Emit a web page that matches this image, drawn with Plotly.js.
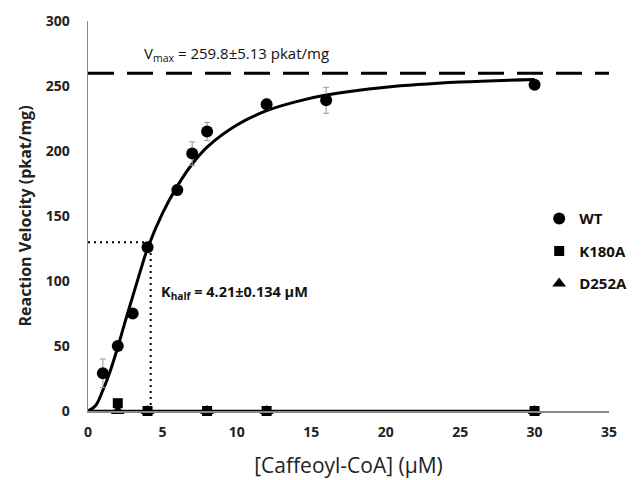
<!DOCTYPE html>
<html>
<head>
<meta charset="utf-8">
<script src="https://cdn.plot.ly/plotly-3.0.1.min.js"></script>
<style>html,body{margin:0;padding:0;background:#fff;}#chart{width:644px;height:480px;}</style>
</head>
<body>
<div id="chart"></div>
<script>
// WT measurements
const wtX = [1, 2, 3, 4, 6, 7, 8, 12, 16, 30];
const wtY = [29, 50, 75, 126, 170, 198, 215, 236, 239, 251];
const wtErr = [11, 3, 3, 3, 4, 9, 7, 4, 10, 3];
// Mutants
const k180aX = [2, 4, 8, 12, 30];
const k180aY = [6, 0, 0, 0, 0];
const d252aX = [2, 4, 8, 12, 30];
const d252aY = [0, 0, 0, 0, 0];
// Fitted Hill curve
const fitX = [0, 0.5, 1, 1.5, 2, 2.5, 3, 3.5, 4, 5, 6, 7, 8, 10, 12, 14, 16, 20, 25, 30];
const fitY = [0, 4, 16, 31, 49, 69, 88, 107, 125, 152, 173, 190, 203, 220, 231, 238, 243, 249, 253, 255];
// Mutant fit (flat)
const mutFitX = [0, 30];
const mutFitY = [0, 0];
// Kinetic constants
const vmax = 259.8;
const khalf = 4.21;
const halfV = 129.9;
const xMax = 35;
const yMax = 300;
const xTicks = [0, 5, 10, 15, 20, 25, 30, 35];
const yTicks = [0, 50, 100, 150, 200, 250, 300];

const traces = [
  {x: [0, xMax], y: [vmax, vmax], mode: 'lines', line: {color: '#000', width: 3, dash: '26px,13px'}, showlegend: false, hoverinfo: 'skip'},
  {x: [0, khalf], y: [halfV, halfV], mode: 'lines', line: {color: '#000', width: 2, dash: '2px,4px'}, showlegend: false, hoverinfo: 'skip'},
  {x: [khalf, khalf], y: [0, halfV], mode: 'lines', line: {color: '#000', width: 2, dash: '2px,4px'}, showlegend: false, hoverinfo: 'skip'},
  {x: mutFitX, y: mutFitY, mode: 'lines', line: {color: '#000', width: 2.5}, showlegend: false, cliponaxis: false},
  {x: fitX, y: fitY, mode: 'lines', line: {color: '#000', width: 3, shape: 'spline'}, showlegend: false},
  {x: wtX, y: wtY, name: 'WT', mode: 'markers', legendgroup: 'a',
   marker: {symbol: 'circle', size: 12, color: '#000'},
   error_y: {type: 'data', array: wtErr, visible: true, color: '#999', thickness: 1, width: 3},
   cliponaxis: false},
  {x: k180aX, y: k180aY, name: 'K180A', mode: 'markers', legendgroup: 'b',
   marker: {symbol: 'square', size: 10, color: '#000'}, cliponaxis: false},
  {x: d252aX, y: d252aY, name: 'D252A', mode: 'markers', legendgroup: 'c',
   marker: {symbol: 'triangle-up', size: 12, color: '#000'}, cliponaxis: false}
];

const layout = {
  width: 644, height: 480,
  margin: {l: 88, r: 12, t: 21, b: 69},
  paper_bgcolor: '#fff', plot_bgcolor: '#fff',
  font: {family: 'Open Sans, sans-serif', color: '#222'},
  xaxis: {
    range: [0, xMax], tickvals: xTicks, ticktext: xTicks.map(String),
    showgrid: false, zeroline: false, showline: true, linecolor: '#888', linewidth: 1.5,
    ticks: '', ticklabelstandoff: 8, tickfont: {size: 14, color: '#222', weight: 'bold'},
    title: {text: '[Caffeoyl-CoA] (μM)', font: {size: 21, color: '#222'}, standoff: 18}
  },
  yaxis: {
    range: [0, yMax], tickvals: yTicks, ticktext: yTicks.map(String),
    showgrid: false, zeroline: false, showline: true, linecolor: '#888', linewidth: 1.5,
    ticks: '', ticklabelstandoff: 14, tickfont: {size: 14, color: '#222', weight: 'bold'},
    title: {text: 'Reaction Velocity (pkat/mg)', font: {size: 16, color: '#222', weight: 'bold'}, standoff: 10}
  },
  legend: {x: 0.866, y: 0.535, xanchor: 'left', yanchor: 'top', traceorder: 'grouped', tracegroupgap: 10,
    font: {size: 15, color: '#111', weight: 'bold'}, bgcolor: 'rgba(0,0,0,0)', itemwidth: 30},
  annotations: [
    {x: 10.0, y: 275, xref: 'x', yref: 'y', text: 'V<sub>max</sub> = 259.8±5.13 pkat/mg', showarrow: false,
     font: {size: 15, color: '#111'}},
    {x: 4.74, y: 91, xref: 'x', yref: 'y', xanchor: 'left', text: 'K<sub>half</sub> = 4.21±0.134 μM', showarrow: false,
     font: {size: 14.5, color: '#111', weight: 'bold'}}
  ],
  showlegend: true
};

Plotly.newPlot('chart', traces, layout, {displayModeBar: false, staticPlot: true});
</script>
</body>
</html>
